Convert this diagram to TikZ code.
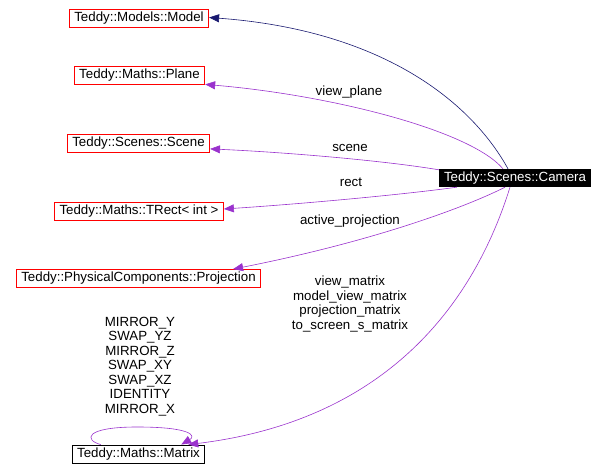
\documentclass[tikz,border=0pt]{standalone}
\usepackage{fontspec}
\setmainfont{Liberation Sans}
\usetikzlibrary{arrows.meta,calc}
\definecolor{edgepurple}{HTML}{9A32CD}
\definecolor{edgenavy}{HTML}{191970}
\begin{document}
\begin{tikzpicture}[x=1pt,y=-1pt,
  every node/.style={font=\fontsize{13.3}{14.5}\selectfont},
  cls/.style={draw=red, line width=0.8pt, fill=white, inner xsep=5pt, inner ysep=0pt, minimum height=18pt, text height=10pt, text depth=3pt},
  clsblack/.style={cls, draw=black},
  clsfocus/.style={fill=black, text=white, inner xsep=5pt, inner ysep=0pt, minimum height=18pt, text height=10pt, text depth=3pt},
  lbl/.style={align=center, inner sep=0pt},
  pedge/.style={draw=edgepurple, line width=0.6pt, -{Triangle[length=10pt,width=8pt]}},
  nedge/.style={draw=edgenavy, line width=0.6pt, -{Triangle[length=10pt,width=8pt]}}]
\useasboundingbox (0,0) rectangle (606,470);

\node[cls] (model) at (139,18.5) {Teddy::Models::Model};
\node[cls] (plane) at (139.5,75) {Teddy::Maths::Plane};
\node[cls] (scene) at (138.5,143.5) {Teddy::Scenes::Scene};
\node[cls] (trect) at (139,211) {Teddy::Maths::TRect< int >};
\node[cls] (proj) at (138.5,278.5) {Teddy::PhysicalComponents::Projection};
\node[clsblack] (matrix) at (138.5,454) {Teddy::Maths::Matrix};
\node[clsfocus] (cam) at (515,178) {Teddy::Scenes::Camera};

\node[lbl] (lplane) at (349,92) {view\_plane};
\node[lbl] (lscene) at (350,148) {scene};
\node[lbl] (lrect) at (351,182) {rect};
\node[lbl] (lproj) at (350,221) {active\_projection};
\node[lbl] (lmat) at (350,304) {view\_matrix\\model\_view\_matrix\\projection\_matrix\\to\_screen\_s\_matrix};
\node[lbl] (lloop) at (140,366.5) {MIRROR\_Y\\SWAP\_YZ\\MIRROR\_Z\\SWAP\_XY\\SWAP\_XZ\\IDENTITY\\MIRROR\_X};

\draw[nedge] ($(cam.north)+(-7,0)$) .. controls (470,100) and (380,30) .. ($(model.east)+(0,-1)$);
\draw[pedge] ($(cam.north)+(-12,0)$) .. controls (470,130) and (330,95) .. (plane.south east);
\draw[pedge] ($(cam.north west)+(0,1)$) .. controls (380,160) and (280,152) .. ($(scene.south east)+(0,-4)$);
\draw[pedge] ($(cam.south west)+(18,0)$) .. controls (400,195) and (300,204) .. ($(trect.east)+(0,-2)$);
\draw[pedge] ($(cam.south)+(-10,0)$) .. controls (470,205) and (380,240) .. ($(proj.north east)+(-28,0)$);
\draw[pedge] ($(cam.south)+(-5,0)$) .. controls (475,300) and (390,420) .. ($(matrix.north east)+(-17,0)$);
\draw[pedge] ($(matrix.north west)+(29,0)$) .. controls (84,440) and (84,427) .. (137,427) .. controls (192,427) and (196,436) .. ($(matrix.north east)+(-24,0)$);
\end{tikzpicture}
\end{document}
